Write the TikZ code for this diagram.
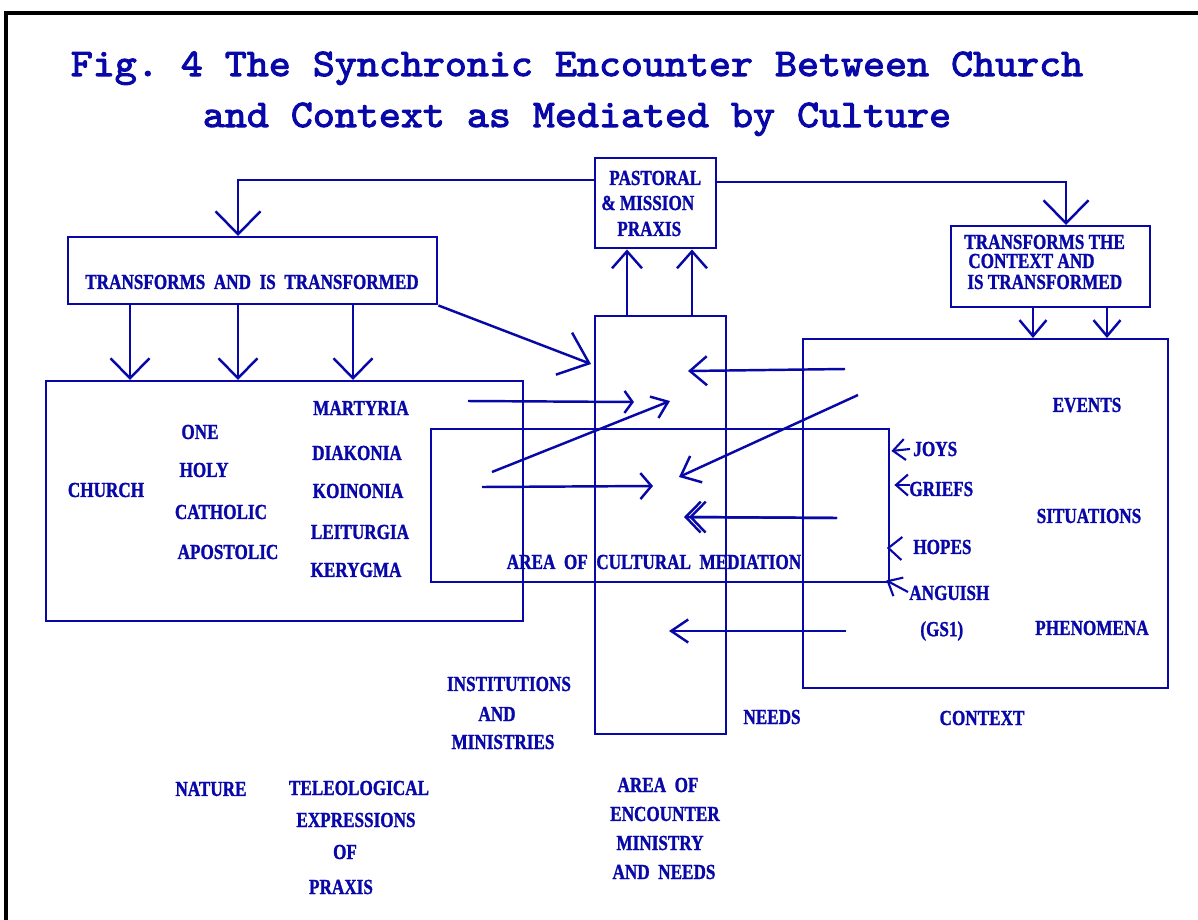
\documentclass[tikz,border=0pt]{standalone}
\usepackage{fontspec}
\usetikzlibrary{arrows.meta,calc}
\newfontfamily\labfont[FakeStretch=0.8,FakeBold=1.2]{Liberation Serif}
\newfontfamily\titfont{lmmono10-regular.otf}[FakeStretch=1.07,FakeBold=2.6]
\definecolor{dblue}{RGB}{8,8,168}
\begin{document}
\begin{tikzpicture}[x=0.02cm,y=-0.02cm,
  box/.style={draw=dblue,line width=1.4pt,inner sep=0,anchor=north west},
  conn/.style={draw=dblue,line width=1.4pt},
  thin/.style={draw=dblue,line width=1.2pt},
  lab/.style={text=dblue,inner sep=0,font=\labfont\bfseries\fontsize{12.2}{14}\selectfont},
  ttl/.style={text=dblue,inner sep=0,anchor=base,
    font=\titfont\fontsize{22.3}{26}\selectfont},
  tipA/.style={-{Straight Barb[length=4.6mm,width=9mm]}},
  tipB/.style={-{Straight Barb[length=3.4mm,width=6mm]}},
  tipC/.style={-{Straight Barb[length=4mm,width=7.8mm]}},
  tipD/.style={-{Straight Barb[length=3.2mm,width=5.4mm]}},
  tipE/.style={-{Straight Barb[length=5.4mm,width=9mm]}},
  tipF/.style={-{Straight Barb[length=3.4mm,width=5.8mm]}},
  tipG/.style={-{Straight Barb[length=1.6mm,width=4.4mm]}},
  tipH/.style={-{Straight Barb[length=3mm,width=4.6mm]}},
  tipI/.style={-{Straight Barb[length=2.2mm,width=5.2mm]}},
  tipJ/.style={-{Straight Barb[length=3mm,width=6.2mm]}},
  tipK/.style={-{Straight Barb[length=3.4mm,width=4.6mm]}},
  tipS/.style={-{Straight Barb[length=2.4mm,width=4.2mm]}},
]
\useasboundingbox (0,0) rectangle (1198,920);
% outer frame
\draw[black,line width=2pt] (1198,13) -- (6,13) -- (6,920);

% title
\node[ttl] (t1) at (577,76) {Fig.\ 4 The Synchronic Encounter Between Church};
\node[ttl] (t2) at (577,127) {and Context as Mediated by Culture};

% boxes
\node[box,minimum width=2.42cm,minimum height=1.8cm] (pastoral) at (594,157) {};
\node[box,minimum width=7.38cm,minimum height=1.34cm] (tat) at (67,236) {};
\node[box,minimum width=3.98cm,minimum height=1.62cm] (ttc) at (950,225) {};
\node[box,minimum width=9.54cm,minimum height=4.8cm] (church) at (45,380) {};
\node[box,minimum width=2.62cm,minimum height=8.36cm] (mid) at (594,315) {};
\node[box,minimum width=7.3cm,minimum height=6.98cm] (context) at (802,338) {};
\node[box,minimum width=9.16cm,minimum height=3.06cm] (cult) at (430,428) {};

% box texts
\node[lab,anchor=west] (p1) at (609,178) {PASTORAL};
\node[lab,anchor=west] (p2) at (601,203) {\& MISSION};
\node[lab,anchor=west] (p3) at (617,229) {PRAXIS};
\node[lab] (tatl) at (252,282) {TRANSFORMS\ \ AND\ \ IS\ \ TRANSFORMED};
\node[lab,anchor=west] (c1) at (964,242) {TRANSFORMS THE};
\node[lab,anchor=west] (c2) at (968,261) {CONTEXT AND};
\node[lab,anchor=west] (c3) at (967,282) {IS TRANSFORMED};

% church texts
\node[lab] (church1) at (106,490) {CHURCH};
\node[lab] (one) at (200,432) {ONE};
\node[lab] (holy) at (204,470) {HOLY};
\node[lab] (cath) at (221,512) {CATHOLIC};
\node[lab] (apos) at (228,552) {APOSTOLIC};
\node[lab] (mart) at (361,408) {MARTYRIA};
\node[lab] (diak) at (357,453) {DIAKONIA};
\node[lab] (koin) at (358,491) {KOINONIA};
\node[lab] (leit) at (360,532) {LEITURGIA};
\node[lab] (kery) at (356,570) {KERYGMA};

% cultural mediation
\node[lab] (acm) at (654,562) {AREA\ \ OF\ \ CULTURAL\ \ MEDIATION};

% context texts
\node[lab] (events) at (1087,405) {EVENTS};
\node[lab] (situ) at (1089,516) {SITUATIONS};
\node[lab] (phen) at (1092,628) {PHENOMENA};
\node[lab,anchor=west] (joys) at (913,449) {JOYS};
\node[lab,anchor=west] (griefs) at (909,489) {GRIEFS};
\node[lab,anchor=west] (hopes) at (913,547) {HOPES};
\node[lab,anchor=west] (anguish) at (909,593) {ANGUISH};
\node[lab,anchor=west] (gs1) at (920,631) {(GS1)};
\node[lab] (ctx) at (982,718) {CONTEXT};
\node[lab] (needs) at (772,717) {NEEDS};

% lower texts
\node[lab] (inst) at (509,684) {INSTITUTIONS};
\node[lab] (and1) at (497,714) {AND};
\node[lab] (mini) at (503,742) {MINISTRIES};
\node[lab] (aoe1) at (658,785) {AREA\ \ OF};
\node[lab] (aoe2) at (665,814) {ENCOUNTER};
\node[lab] (aoe3) at (660,843) {MINISTRY};
\node[lab] (aoe4) at (664,872) {AND\ \ NEEDS};
\node[lab] (nature) at (211,789) {NATURE};
\node[lab] (tel1) at (359,788) {TELEOLOGICAL};
\node[lab] (tel2) at (356,820) {EXPRESSIONS};
\node[lab] (tel3) at (345,852) {OF};
\node[lab] (tel4) at (341,887) {PRAXIS};

% connectors: pastoral praxis
\draw[conn,tipA] ($(pastoral.north west)+(0,23)$) -| ($(tat.north west)+(171,0)$);
\draw[conn,tipA] ($(pastoral.north east)+(0,25)$) -| ($(ttc.north west)+(116,0)$);
\draw[conn,tipB] ($(mid.north west)+(33,0)$) -- ($(pastoral.south west)+(33,0)$);
\draw[conn,tipB] ($(mid.north west)+(98,0)$) -- ($(pastoral.south west)+(98,0)$);

% transforms and is transformed -> church
\foreach \a/\b in {63/85,171/193,286/308}
  \draw[conn,tipC] ($(tat.south west)+(\a,0)$) -- ($(church.north west)+(\b,0)$);
\draw[conn,tipE] (tat.south east) -- ($(mid.north west)+(-3,49)$);

% transforms the context -> context
\draw[conn,tipD] ($(ttc.south west)+(83,0)$) -- ($(context.north west)+(231,0)$);
\draw[conn,tipD] ($(ttc.south west)+(157,0)$) -- ($(context.north west)+(305,0)$);

% arrows in the area of encounter
\coordinate (a1s) at (845,369); \coordinate (a1e) at (688,371);
\coordinate (a2s) at (468,401); \coordinate (a2e) at (634,402);
\coordinate (a3s) at (492,472); \coordinate (a3e) at (670,401);
\coordinate (a4s) at (858,395); \coordinate (a4e) at (679,477);
\coordinate (a5s) at (482,487); \coordinate (a5e) at (653,486);
\coordinate (a6s) at (837,518); \coordinate (a6e) at (684,517); \coordinate (a6f) at (689,517);
\coordinate (a7s) at (846,631); \coordinate (a7e) at (669,631);
\draw[conn,tipF] (a1s) -- (a1e);
\draw[conn,tipG] (a2s) -- (a2e);
\draw[conn,tipH] (a3s) -- (a3e);
\draw[conn,tipF] (a4s) -- (a4e);
\draw[conn,tipI] (a5s) -- (a5e);
\draw[conn,tipJ] (a6s) -- (a6e);
\draw[conn,tipJ] (a6s) -- (a6f);
\draw[conn,tipK] (a7s) -- (a7e);

% small arrows onto the cultural mediation box
\draw[thin,tipS] ($(joys.west)+(-3,0)$) -- ($(cult.north east)+(1,23)$);
\draw[thin,tipS] ($(griefs.west)+(1,-4)$) -- ($(cult.north east)+(4,57)$);
\draw[thin] ($(cult.north east)+(12,109)$) -- ($(cult.north east)+(-2,120)$) -- ($(cult.north east)+(11,132)$);
\draw[thin,tipS] ($(anguish.west)+(-1,-1)$) -- ($(cult.south east)+(-4,-3)$);
\end{tikzpicture}
\end{document}
